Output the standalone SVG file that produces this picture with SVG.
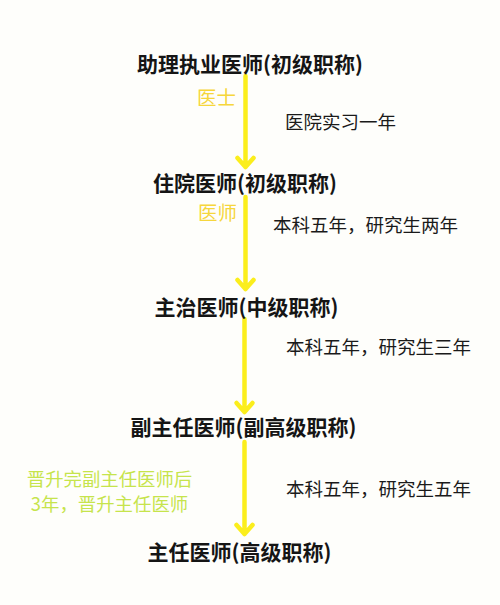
<svg xmlns="http://www.w3.org/2000/svg" width="500" height="605" viewBox="0 0 500 605">
<defs>
<style>
text{font-family:"Noto Sans CJK SC","Noto Sans",sans-serif;}
.title{font-size:21px;font-weight:bold;fill:#151515;text-anchor:middle;}
.note{font-size:18.5px;fill:#1a1a1a;}
.gold{font-size:19.5px;fill:#f6d63c;}
.green{font-size:18.4px;fill:#c6e44c;text-anchor:middle;}
.line{stroke:#fbee1c;stroke-width:4.5;fill:none;stroke-linecap:round;stroke-linejoin:round;}
</style>
</defs>
<rect width="500" height="605" fill="#fefefb"/>
<g id="connectors">
<path class="line" d="M245.5 76 V167 M237.5 158 L245.5 167 L253.5 158"/>
<path class="line" d="M245.5 197 V289 M237.5 280 L245.5 289 L253.5 280"/>
<path class="line" d="M244.5 319 V412 M236.5 403 L244.5 412 L252.5 403"/>
<path class="line" d="M244.5 442 V534 M236.5 525 L244.5 534 L252.5 525"/>
</g>
<g id="node1"><text class="title" x="250" y="72">助理执业医师(初级职称)</text></g>
<g id="node2"><text class="title" x="245" y="191">住院医师(初级职称)</text></g>
<g id="node3"><text class="title" x="246.5" y="315">主治医师(中级职称)</text></g>
<g id="node4"><text class="title" x="243.5" y="435">副主任医师(副高级职称)</text></g>
<g id="node5"><text class="title" x="239.5" y="560">主任医师(高级职称)</text></g>
<g id="labels">
<text class="gold" x="197" y="105">医士</text>
<text class="note" x="285" y="129">医院实习一年</text>
<text class="gold" x="198" y="220">医师</text>
<text class="note" x="273" y="232">本科五年，研究生两年</text>
<text class="note" x="286" y="354">本科五年，研究生三年</text>
<text class="green" x="109.5" y="486">晋升完副主任医师后</text>
<text class="green" x="109.5" y="511">3年，晋升主任医师</text>
<text class="note" x="286" y="496">本科五年，研究生五年</text>
</g>
</svg>
